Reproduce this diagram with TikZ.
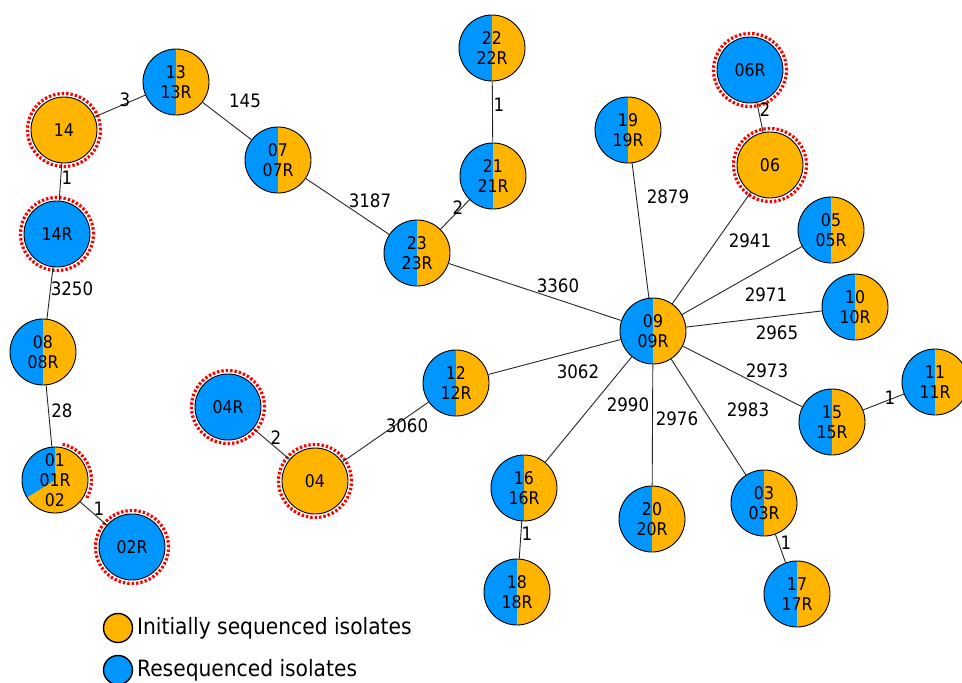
\documentclass[tikz,border=0pt]{standalone}
\usepackage{fontspec}
\setmainfont{DejaVu Sans Condensed}
\definecolor{corange}{HTML}{FFB400}
\definecolor{cblue}{HTML}{0096FF}
\begin{document}
\begin{tikzpicture}[x=1pt,y=-1pt,
  iso/.style={circle,draw=black,line width=0.9pt,minimum size=66pt,inner sep=0pt,
    align=center,font=\fontsize{17.5}{20}\selectfont,text=black},
  split/.style={iso,fill=corange,path picture={\fill[cblue]
    (path picture bounding box.south west) rectangle (path picture bounding box.north);}},
  orng/.style={iso,fill=corange},
  blu/.style={iso,fill=cblue},
  ring/.style={draw=red,line width=3.2pt,dash pattern=on 2.4pt off 2pt},
  link/.style={draw=black!85,line width=0.9pt},
  lbl/.style={font=\fontsize{18.5}{20}\selectfont,text=black,inner sep=0pt},
  legtxt/.style={font=\fontsize{22.5}{26}\selectfont,text=black,inner sep=0pt,anchor=west}]
\useasboundingbox (0,0) rectangle (962,683);

% isolates
\node[split] (n13) at (176,82) {13\\13R};
\node[orng] (n14) at (64,130) {14};
\node[blu] (n14R) at (57,234) {14R};
\node[split] (n08) at (43,352) {08\\08R};
\node[iso,fill=corange,path picture={\fill[cblue] (path picture bounding box.center)
   -- ++(90:40pt) arc[start angle=90,end angle=212,radius=40pt] -- cycle;}]
   (n01) at (55,480) {01\\01R\\02};
\node[blu] (n02R) at (132,547) {02R};
\node[split] (n07) at (278,160) {07\\07R};
\node[split] (n22) at (492,48) {22\\22R};
\node[split] (n21) at (493,176) {21\\21R};
\node[split] (n23) at (417,253) {23\\23R};
\node[split] (n19) at (628,130) {19\\19R};
\node[blu] (n06R) at (750,70) {06R};
\node[orng] (n06) at (770,165) {06};
\node[split] (n05) at (831,230) {05\\05R};
\node[split] (n10) at (855,307) {10\\10R};
\node[split] (n09) at (653,331) {09\\09R};
\node[split] (n11) at (935,382) {11\\11R};
\node[split] (n15) at (832,422) {15\\15R};
\node[split] (n12) at (456,383) {12\\12R};
\node[blu] (n04R) at (228,407) {04R};
\node[orng] (n04) at (315,481) {04};
\node[split] (n16) at (524,488) {16\\16R};
\node[split] (n20) at (652,519) {20\\20R};
\node[split] (n03) at (764,503) {03\\03R};
\node[split] (n18) at (517,592) {18\\18R};
\node[split] (n17) at (797,594) {17\\17R};

% dotted rings
\foreach \n in {n14,n14R,n02R,n06R,n06,n04R,n04}
  \draw[ring] (\n) circle[radius=36.5pt];
\draw[ring] (n01) ++(78:36.5pt) arc[start angle=78,end angle=-32,radius=36.5pt];

% links
\draw[link] (n13) -- (n14);
\draw[link] (n13) -- (n07);
\draw[link] (n14) -- (n14R);
\draw[link] (n14R) -- (n08);
\draw[link] (n08) -- (n01);
\draw[link] (n01) -- (n02R);
\draw[link] (n07) -- (n23);
\draw[link] (n22) -- (n21);
\draw[link] (n21) -- (n23);
\draw[link] (n23) -- (n09);
\draw[link] (n19) -- (n09);
\draw[link] (n06R) -- (n06);
\draw[link] (n06) -- (n09);
\draw[link] (n05) -- (n09);
\draw[link] (n10) -- (n09);
\draw[link] (n09) -- (n15);
\draw[link] (n15) -- (n11);
\draw[link] (n12) -- (n09);
\draw[link] (n04) -- (n12);
\draw[link] (n04R) -- (n04);
\draw[link] (n16) -- (n09);
\draw[link] (n20) -- (n09);
\draw[link] (n03) -- (n09);
\draw[link] (n16) -- (n18);
\draw[link] (n03) -- (n17);

% distances
\node[lbl] (d1) at (125,100) {3};
\node[lbl] (d2) at (245,101) {145};
\node[lbl] (d3) at (67,178) {1};
\node[lbl] (d4) at (72,289) {3250};
\node[lbl] (d5) at (62,411) {28};
\node[lbl] (d6) at (99,509) {1};
\node[lbl] (d7) at (370,201) {3187};
\node[lbl] (d8) at (499,105) {1};
\node[lbl] (d9) at (458,208) {2};
\node[lbl] (d10) at (558,286) {3360};
\node[lbl] (d11) at (668,197) {2879};
\node[lbl] (d12) at (765,110) {2};
\node[lbl] (d13) at (750,241) {2941};
\node[lbl] (d14) at (766,295) {2971};
\node[lbl] (d15) at (777,333) {2965};
\node[lbl] (d16) at (767,371) {2973};
\node[lbl] (d17) at (890,398) {1};
\node[lbl] (d18) at (578,372) {3062};
\node[lbl] (d19) at (407,426) {3060};
\node[lbl] (d20) at (276,438) {2};
\node[lbl] (d21) at (628,405) {2990};
\node[lbl] (d22) at (677,419) {2976};
\node[lbl] (d23) at (748,410) {2983};
\node[lbl] (d24) at (527,534) {1};
\node[lbl] (d25) at (786,543) {1};

% legend
\node[circle,draw=black,line width=1.4pt,fill=corange,minimum size=29pt,inner sep=0pt] (k1) at (118,628) {};
\node[legtxt] (k1t) at (137,628) {Initially sequenced isolates};
\node[circle,draw=black,line width=1.4pt,fill=cblue,minimum size=29pt,inner sep=0pt] (k2) at (118,670) {};
\node[legtxt] (k2t) at (137,670) {Resequenced isolates};
\end{tikzpicture}
\end{document}
